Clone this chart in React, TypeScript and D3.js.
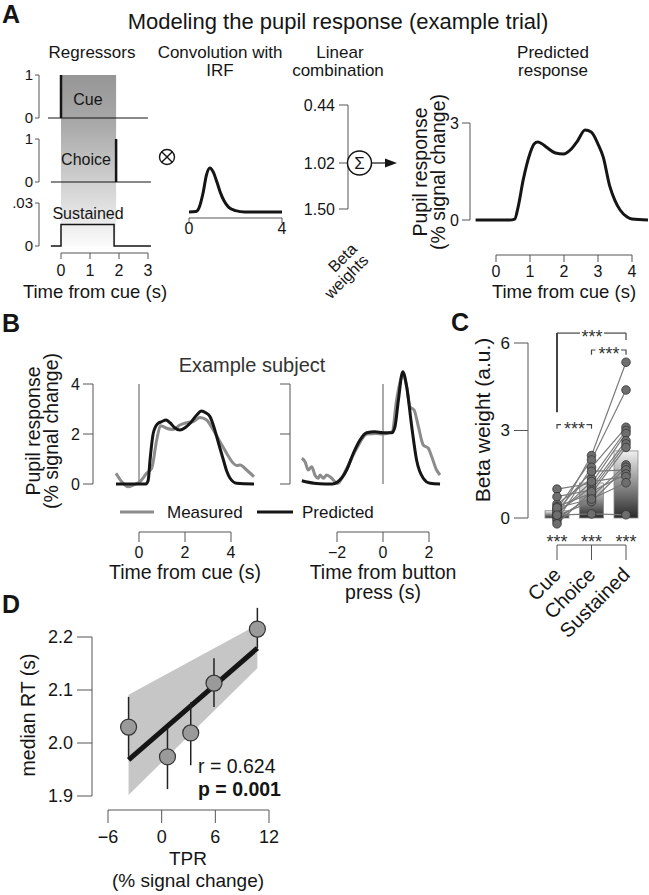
import React from "react";
import * as d3 from "d3";

const FONT = "'Liberation Sans', Arial, Helvetica, sans-serif";
const INK = "#151515";
const AX = "#555";

// ---------- Panel A data ----------
const regTicks = [0, 1, 2, 3];
const cueOnset = 0;
const choiceTime = 1.9;
const sustainedWindow = [0, 1.83];
const sustainedLevel = 0.015;
const regSpan = [-0.45, 3.1];

const irfT = [0, 0.3, 0.45, 0.6, 0.75, 0.9, 1.05, 1.2, 1.35, 1.5, 1.7, 2.0, 2.4, 3, 4];
const irfV = [0, 0.01, 0.12, 0.42, 0.84, 1.0, 0.9, 0.68, 0.44, 0.26, 0.11, 0.03, 0, 0, 0];
const irfTicks = [0, 4];

const betaLabels = ["0.44", "1.02", "1.50"];

const predT = [-0.6, 0.4, 0.55, 0.65, 0.8, 1.0, 1.12, 1.23, 1.35, 1.5, 1.75, 1.98, 2.2, 2.4, 2.62, 2.8, 3.0, 3.15, 3.35, 3.5, 3.65, 3.85, 4.0, 4.47];
const predV = [0, 0, 0.03, 0.4, 1.24, 2.06, 2.35, 2.41, 2.36, 2.24, 2.07, 2.04, 2.18, 2.45, 2.78, 2.72, 2.35, 1.96, 1.03, 0.6, 0.31, 0.1, 0.03, 0];
const predYTicks = [0, 3];
const predXTicks = [0, 1, 2, 3, 4];

// ---------- Panel B data ----------
const bYTicks = [0, 2, 4];
const cueXTicks = [0, 2, 4];
const btnXTicks = [-2, 0, 2];
const measCueT = [-1, -0.75, -0.47, -0.25, 0.04, 0.33, 0.55, 0.77, 0.93, 1.05, 1.2, 1.48, 1.78, 2.07, 2.36, 2.65, 2.94, 3.23, 3.52, 3.81, 4.1, 4.25, 4.4, 4.68, 5];
const measCueV = [0.43, 0.09, -0.11, -0.04, 0.09, 0.43, 0.63, 1.76, 2.33, 2.3, 2.23, 2.18, 2.36, 2.45, 2.5, 2.66, 2.56, 2.16, 1.69, 1.23, 0.83, 0.74, 0.76, 0.56, 0.29];
const predCueT = [-1, 0.3, 0.4, 0.48, 0.62, 0.8, 1.0, 1.17, 1.35, 1.55, 1.78, 2.0, 2.22, 2.5, 2.72, 2.9, 3.09, 3.25, 3.38, 3.53, 3.67, 3.82, 3.96, 4.25, 5];
const predCueV = [0, 0, 0.15, 0.96, 2.03, 2.4, 2.5, 2.56, 2.45, 2.25, 2.16, 2.25, 2.43, 2.75, 2.92, 2.85, 2.69, 2.3, 1.89, 1.4, 0.96, 0.5, 0.23, 0.03, 0];
const measBtnT = [-3.53, -3.39, -3.25, -3.1, -2.96, -2.81, -2.74, -2.59, -2.45, -2.23, -1.98, -1.58, -1.14, -0.7, -0.3, 0, 0.4, 0.59, 0.75, 0.86, 1.03, 1.17, 1.35, 1.54, 1.75, 1.97, 2.12, 2.33, 2.48];
const measBtnV = [1.03, 0.89, 0.56, 0.69, 0.36, 0.23, 0.36, 0.23, 0.36, 0.23, 0.02, 0.62, 1.43, 2.0, 2.02, 2.0, 2.1, 3.36, 4.1, 4.4, 3.89, 3.09, 2.96, 2.29, 1.56, 1.43, 1.09, 0.56, 0.36];
const predBtnT = [-3.53, -3.0, -2.5, -2.2, -1.98, -1.58, -1.29, -1.0, -0.71, -0.35, 0.0, 0.38, 0.52, 0.67, 0.86, 1.03, 1.25, 1.46, 1.75, 2.04, 2.48];
const predBtnV = [0.13, 0.03, 0.0, 0.0, 0.08, 0.56, 1.23, 1.76, 2.05, 2.09, 2.05, 2.05, 2.29, 3.36, 4.49, 3.89, 2.29, 0.96, 0.23, 0.03, 0];

// ---------- Panel C data ----------
const regressors = ["Cue", "Choice", "Sustained"];
const betaMeans = [0.25, 1.2, 2.3];
const betaCue = [0.05, 0.3, -0.09, 0.48, 0.99, 0.18, 0.73, 0.39, -0.01, 0.08, 0.25, -0.2, 0.12, 0.35, 0.1];
const betaChoice = [2.14, 1.99, 1.74, 1.35, 1.19, 1.07, 0.96, 0.85, 0.73, 0.56, 1.6, 0.9, 1.25, 0.65, 0.14];
const betaSustained = [5.34, 4.39, 3.11, 3.0, 2.9, 2.65, 2.54, 2.42, 1.82, 1.74, 1.65, 1.51, 1.42, 1.21, 0.11];
const cYTicks = [0, 3, 6];

// ---------- Panel D data ----------
const tpr = [-3.7, 0.65, 3.25, 5.85, 10.7];
const medianRT = [2.03, 1.974, 2.019, 2.113, 2.215];
const rtLow = [1.974, 1.913, 1.958, 2.068, 2.179];
const rtHigh = [2.087, 2.028, 2.077, 2.16, 2.255];
const fitX = [-3.7, 10.7];
const fitY = [1.968, 2.179];
const bandLow = [1.902, 2.141];
const bandHigh = [2.091, 2.223];
const dXTicks = [-6, 0, 6, 12];
const dYTicks = [1.9, 2.0, 2.1, 2.2];

function curve(xs: number[], ys: number[], xS: any, yS: any) {
  return d3
    .line<number>()
    .x((d) => xS(d))
    .y((_, i) => yS(ys[i]))
    .curve(d3.curveMonotoneX)(xs) as string;
}

function LeftAxis({ x, scale, ticks, labels, len, fs, gap = 3, color = AX, showLabels = true }: any) {
  const [a, b] = d3.extent(ticks.map((t: number) => scale(t))) as number[];
  return (
    <g>
      <line x1={x} x2={x} y1={a} y2={b} stroke={color} strokeWidth={1} />
      {ticks.map((t: number, i: number) => (
        <g key={i}>
          <line x1={x - len} x2={x} y1={scale(t)} y2={scale(t)} stroke={color} strokeWidth={1} />
          {showLabels && (
            <text x={x - len - gap} y={scale(t)} dy="0.35em" textAnchor="end" fontSize={fs} fill={INK}>
              {labels ? labels[i] : t}
            </text>
          )}
        </g>
      ))}
    </g>
  );
}

function BottomAxis({ y, scale, ticks, labels, len, fs, labelY, color = AX }: any) {
  const xs = ticks.map((t: number) => scale(t));
  return (
    <g>
      <line x1={d3.min(xs)} x2={d3.max(xs)} y1={y} y2={y} stroke={color} strokeWidth={1} />
      {ticks.map((t: number, i: number) => (
        <g key={i}>
          <line x1={scale(t)} x2={scale(t)} y1={y} y2={y + len} stroke={color} strokeWidth={1} />
          <text x={scale(t)} y={labelY} textAnchor="middle" fontSize={fs} fill={INK}>
            {labels ? labels[i] : t < 0 ? "\u2212" + Math.abs(t) : t}
          </text>
        </g>
      ))}
    </g>
  );
}

export default function App() {
  // ---- Panel A scales ----
  const xReg = d3.scaleLinear().domain([0, 3]).range([61, 148]);
  const yCue = d3.scaleLinear().domain([0, 1]).range([118, 75]);
  const yCho = d3.scaleLinear().domain([0, 1]).range([182, 139]);
  const ySus = d3.scaleLinear().domain([0, 0.03]).range([246, 203]);
  const xIrf = d3.scaleLinear().domain([0, 4]).range([189, 282]);
  const yIrf = d3.scaleLinear().domain([0, 1]).range([212, 168]);
  const yBeta = d3.scaleOrdinal<string, number>().domain(betaLabels).range([105, 163, 209]);
  const xPred = d3.scaleLinear().domain([0, 4]).range([496, 632]);
  const yPred = d3.scaleLinear().domain([0, 3]).range([220, 123]);

  const susPts: [number, number][] = [
    [regSpan[0] + 0.1, 0],
    [sustainedWindow[0], 0],
    [sustainedWindow[0], sustainedLevel],
    [sustainedWindow[1], sustainedLevel],
    [sustainedWindow[1], 0],
    [regSpan[1], 0],
  ];
  const susPath = d3.line<[number, number]>().x((d) => xReg(d[0])).y((d) => ySus(d[1]))(susPts) as string;

  // ---- Panel B scales ----
  const yB = d3.scaleLinear().domain([0, 4]).range([484, 384]);
  const xBL = d3.scaleLinear().domain([0, 4]).range([139, 231]);
  const xBR = d3.scaleLinear().domain([-2, 2]).range([337, 429]);

  // ---- Panel C scales ----
  const yC = d3.scaleLinear().domain([0, 6]).range([518, 343]);
  const xC = d3.scalePoint<string>().domain(regressors).range([557, 626]);
  const barW = 24;
  const subjects = betaCue.map((c, i) => [c, betaChoice[i], betaSustained[i]]);

  // ---- Panel D scales ----
  const xD = d3.scaleLinear().domain([-6, 12]).range([108, 269]);
  const yD = d3.scaleLinear().domain([1.9, 2.2]).range([796, 637]);
  const bandPath = d3
    .area<number>()
    .x((d) => xD(d))
    .y0((_, i) => yD(bandLow[i]))
    .y1((_, i) => yD(bandHigh[i]))(fitX) as string;
  const fitPath = d3.line<number>().x((d) => xD(d)).y((_, i) => yD(fitY[i]))(fitX) as string;

  const cx = 359.5;
  const cy = yBeta("1.02");

  return (
    <svg width={649} height={895} style={{ position: "absolute", left: 0, top: 0, fontFamily: FONT }}>
      <defs>
        <linearGradient id="regGrad" x1="0" y1="0" x2="0" y2="1">
          <stop offset="0" stopColor="#969696" />
          <stop offset="0.3" stopColor="#aaaaaa" />
          <stop offset="1" stopColor="#fbfbfb" />
        </linearGradient>
        <linearGradient id="barGrad" x1="0" y1="0" x2="0" y2="1">
          <stop offset="0" stopColor="#f0f0f0" />
          <stop offset="1" stopColor="#2a2a2a" />
        </linearGradient>
      </defs>
      <rect width={649} height={895} fill="#fff" />

      {/* ================= Panel A ================= */}
      <text x={2} y={23} fontSize={25} fontWeight="bold" fill={INK}>A</text>
      <text x={338} y={29} textAnchor="middle" fontSize={22} fill={INK}>Modeling the pupil response (example trial)</text>
      <text x={92} y={58} textAnchor="middle" fontSize={17} fill={INK}>Regressors</text>
      <text x={220} y={58} textAnchor="middle" fontSize={17} fill={INK}>Convolution with</text>
      <text x={220} y={76} textAnchor="middle" fontSize={17} fill={INK}>IRF</text>
      <text x={340} y={58} textAnchor="middle" fontSize={17} fill={INK}>Linear</text>
      <text x={338} y={76} textAnchor="middle" fontSize={17} fill={INK}>combination</text>
      <text x={553} y={58} textAnchor="middle" fontSize={17} fill={INK}>Predicted</text>
      <text x={553} y={76} textAnchor="middle" fontSize={17} fill={INK}>response</text>

      {/* gradient window */}
      <rect
        x={xReg(cueOnset)}
        y={yCue(1)}
        width={xReg(choiceTime) - xReg(cueOnset)}
        height={ySus(0) - yCue(1)}
        fill="url(#regGrad)"
      />
      {/* cue regressor */}
      <LeftAxis x={39} scale={yCue} ticks={[0, 1]} len={4} fs={15} gap={2} />
      <line x1={xReg(regSpan[0])} x2={xReg(regSpan[1]) - 3} y1={yCue(0)} y2={yCue(0)} stroke={INK} strokeWidth={1.2} />
      <line x1={xReg(cueOnset)} x2={xReg(cueOnset)} y1={yCue(0)} y2={yCue(1)} stroke={INK} strokeWidth={2.5} />
      <text x={88} y={105} textAnchor="middle" fontSize={16} fill={INK}>Cue</text>
      {/* choice regressor */}
      <LeftAxis x={39} scale={yCho} ticks={[0, 1]} len={4} fs={15} gap={2} />
      <line x1={xReg(regSpan[0] + 0.1)} x2={xReg(regSpan[1])} y1={yCho(0)} y2={yCho(0)} stroke={INK} strokeWidth={1.2} />
      <line x1={xReg(choiceTime)} x2={xReg(choiceTime)} y1={yCho(0)} y2={yCho(1)} stroke={INK} strokeWidth={2.5} />
      <text x={86} y={165} textAnchor="middle" fontSize={16} fill={INK}>Choice</text>
      {/* sustained regressor */}
      <LeftAxis x={39} scale={ySus} ticks={[0, 0.03]} labels={["0", ".03"]} len={4} fs={15} gap={2} />
      <path d={susPath} fill="none" stroke={INK} strokeWidth={1.5} />
      <text x={88} y={219} textAnchor="middle" fontSize={16} fill={INK}>Sustained</text>
      <BottomAxis y={253} scale={xReg} ticks={regTicks} len={6} fs={16} labelY={276} />
      <text x={95} y={298} textAnchor="middle" fontSize={18.5} fill={INK}>Time from cue (s)</text>

      {/* convolution symbol */}
      <circle cx={167} cy={157} r={7.5} fill="none" stroke={INK} strokeWidth={1.4} />
      <line x1={167 - 5.3} y1={157 - 5.3} x2={167 + 5.3} y2={157 + 5.3} stroke={INK} strokeWidth={1.4} />
      <line x1={167 - 5.3} y1={157 + 5.3} x2={167 + 5.3} y2={157 - 5.3} stroke={INK} strokeWidth={1.4} />
      {/* IRF */}
      <path d={curve(irfT, irfV, xIrf, yIrf)} fill="none" stroke={INK} strokeWidth={3} />
      <BottomAxis y={218} scale={xIrf} ticks={irfTicks} len={5} fs={16} labelY={234} />

      {/* linear combination */}
      <LeftAxis x={348} scale={yBeta} ticks={betaLabels} labels={betaLabels} len={9} fs={16} gap={4} />
      <line x1={348} x2={cx - 12} y1={cy} y2={cy} stroke={AX} strokeWidth={1} />
      <circle cx={cx} cy={cy} r={12} fill="#fff" stroke={INK} strokeWidth={1.5} />
      <text x={cx} y={cy} dy="0.36em" textAnchor="middle" fontSize={17} fill={INK}>Σ</text>
      <line x1={cx + 12} x2={387} y1={cy} y2={cy} stroke={INK} strokeWidth={1.2} />
      <path d={`M385,${cy - 4.5}L397,${cy}L385,${cy + 4.5}Z`} fill={INK} />
      <text transform="translate(358,250) rotate(-45)" textAnchor="end" fontSize={16} fill={INK}>
        <tspan x={0} y={0}>Beta</tspan>
        <tspan x={0} y={16}>weights</tspan>
      </text>

      {/* predicted response */}
      <LeftAxis x={470} scale={yPred} ticks={predYTicks} len={8} fs={16} gap={3} />
      <path d={curve(predT, predV, xPred, yPred)} fill="none" stroke={INK} strokeWidth={3} />
      <BottomAxis y={255} scale={xPred} ticks={predXTicks} len={7} fs={16} labelY={277} />
      <text x={564} y={298} textAnchor="middle" fontSize={18.5} fill={INK}>Time from cue (s)</text>
      <text transform="translate(427,172) rotate(-90)" textAnchor="middle" fontSize={19.5} fill={INK}>Pupil response</text>
      <text transform="translate(445,172) rotate(-90)" textAnchor="middle" fontSize={19.5} fill={INK}>(% signal change)</text>

      {/* ================= Panel B ================= */}
      <text x={2} y={332} fontSize={25} fontWeight="bold" fill={INK}>B</text>
      <text x={252} y={372} textAnchor="middle" fontSize={20} fill="#333">Example subject</text>
      <text transform="translate(40,431) rotate(-90)" textAnchor="middle" fontSize={19.5} fill={INK}>Pupil response</text>
      <text transform="translate(58,431) rotate(-90)" textAnchor="middle" fontSize={19.5} fill={INK}>(% signal change)</text>
      <LeftAxis x={93} scale={yB} ticks={bYTicks} len={10} fs={16} gap={3} />
      <LeftAxis x={290} scale={yB} ticks={bYTicks} len={10} fs={16} showLabels={false} />
      <line x1={xBL(0)} x2={xBL(0)} y1={yB(4)} y2={yB(0)} stroke="#444" strokeWidth={0.9} />
      <line x1={xBR(0)} x2={xBR(0)} y1={yB(4)} y2={yB(0)} stroke="#444" strokeWidth={0.9} />
      <path d={curve(measCueT, measCueV, xBL, yB)} fill="none" stroke="#8c8c8c" strokeWidth={3} />
      <path d={curve(predCueT, predCueV, xBL, yB)} fill="none" stroke={INK} strokeWidth={3} />
      <path d={curve(measBtnT, measBtnV, xBR, yB)} fill="none" stroke="#8c8c8c" strokeWidth={3} />
      <path d={curve(predBtnT, predBtnV, xBR, yB)} fill="none" stroke={INK} strokeWidth={3} />
      {/* legend */}
      <line x1={120} x2={154} y1={512} y2={512} stroke="#8c8c8c" strokeWidth={3} />
      <text x={167} y={512} dy="0.35em" fontSize={17} fill={INK}>Measured</text>
      <line x1={257} x2={293} y1={512} y2={512} stroke={INK} strokeWidth={3} />
      <text x={302} y={512} dy="0.35em" fontSize={17} fill={INK}>Predicted</text>
      <BottomAxis y={532} scale={xBL} ticks={cueXTicks} len={10} fs={16} labelY={558} />
      <BottomAxis y={532} scale={xBR} ticks={btnXTicks} len={10} fs={16} labelY={558} />
      <text x={185} y={579} textAnchor="middle" fontSize={19.5} fill={INK}>Time from cue (s)</text>
      <text x={383} y={579} textAnchor="middle" fontSize={19.5} fill={INK}>Time from button</text>
      <text x={383} y={599} textAnchor="middle" fontSize={19.5} fill={INK}>press (s)</text>

      {/* ================= Panel C ================= */}
      <text x={451} y={331} fontSize={25} fontWeight="bold" fill={INK}>C</text>
      <LeftAxis x={528} scale={yC} ticks={cYTicks} len={14} fs={17} gap={4} />
      <text transform="translate(490,420) rotate(-90)" textAnchor="middle" fontSize={21} fill={INK}>Beta weight (a.u.)</text>
      {regressors.map((r, i) => (
        <rect
          key={r}
          x={(xC(r) as number) - barW / 2}
          y={yC(betaMeans[i])}
          width={barW}
          height={yC(0) - yC(betaMeans[i])}
          fill="url(#barGrad)"
          stroke="#8a8a8a"
          strokeWidth={0.8}
        />
      ))}
      {subjects.map((s, k) => (
        <path
          key={k}
          d={d3.line<number>().x((_, i) => xC(regressors[i]) as number).y((d) => yC(d))(s) as string}
          fill="none"
          stroke="#7a7a7a"
          strokeWidth={1.2}
        />
      ))}
      {subjects.map((s, k) =>
        s.map((v, i) => (
          <circle key={k + "-" + i} cx={xC(regressors[i]) as number} cy={yC(v)} r={4.3} fill="#6e6e6e" stroke="#333" strokeWidth={0.8} />
        ))
      )}
      {/* significance brackets */}
      <g stroke="#444" fill="none">
        <line x1={xC("Cue")} x2={xC("Cue")} y1={yC(6.34)} y2={yC(3.63)} strokeWidth={2} />
        <line x1={xC("Cue")} x2={580} y1={yC(6.34)} y2={yC(6.34)} strokeWidth={1.2} />
        <line x1={604} x2={xC("Sustained")} y1={yC(6.34)} y2={yC(6.34)} strokeWidth={1.2} />
        <line x1={xC("Sustained")} x2={xC("Sustained")} y1={yC(6.34)} y2={yC(6.1)} strokeWidth={1.2} />
        <path d={`M${xC("Choice")},${yC(5.6)}V${yC(5.76)}H${(xC("Choice") as number) + 4}`} strokeWidth={1.2} />
        <path d={`M${(xC("Sustained") as number) - 5},${yC(5.76)}H${xC("Sustained")}V${yC(5.6)}`} strokeWidth={1.2} />
        <path d={`M${xC("Cue")},${yC(3.06)}V${yC(3.2)}H${(xC("Cue") as number) + 4}`} strokeWidth={1.2} />
        <path d={`M${(xC("Choice") as number) - 5},${yC(3.2)}H${xC("Choice")}V${yC(3.06)}`} strokeWidth={1.2} />
      </g>
      <text x={592} y={yC(6.34) + 10} textAnchor="middle" fontSize={18} fill="#333">***</text>
      <text x={609} y={yC(5.76) + 10} textAnchor="middle" fontSize={18} fill="#333">***</text>
      <text x={574.5} y={yC(3.2) + 10} textAnchor="middle" fontSize={18} fill="#333">***</text>
      {regressors.map((r) => (
        <text key={r} x={xC(r)} y={548} textAnchor="middle" fontSize={18} fill="#333">***</text>
      ))}
      <line x1={xC("Cue")} x2={xC("Sustained")} y1={545} y2={545} stroke={AX} strokeWidth={1} />
      {regressors.map((r) => (
        <line key={r} x1={xC(r)} x2={xC(r)} y1={545} y2={560} stroke={AX} strokeWidth={1} />
      ))}
      {regressors.map((r) => (
        <text
          key={r}
          transform={`translate(${(xC(r) as number) + 5},576) rotate(-45)`}
          textAnchor="end"
          fontSize={20}
          fill={INK}
        >
          {r}
        </text>
      ))}

      {/* ================= Panel D ================= */}
      <text x={2} y={613} fontSize={25} fontWeight="bold" fill={INK}>D</text>
      <LeftAxis x={92} scale={yD} ticks={dYTicks} labels={dYTicks.map((t) => t.toFixed(1))} len={15} fs={18} gap={4} />
      <text transform="translate(35,715) rotate(-90)" textAnchor="middle" fontSize={19.5} fill={INK}>median RT (s)</text>
      <path d={bandPath} fill="#c6c6c6" />
      <path d={fitPath} fill="none" stroke={INK} strokeWidth={5} />
      {tpr.map((t, i) => (
        <line key={i} x1={xD(t)} x2={xD(t)} y1={yD(rtLow[i])} y2={yD(rtHigh[i])} stroke="#222" strokeWidth={1.5} />
      ))}
      {tpr.map((t, i) => (
        <circle key={i} cx={xD(t)} cy={yD(medianRT[i])} r={8} fill="#9a9a9a" stroke="#333" strokeWidth={1.2} />
      ))}
      <text x={198} y={773} fontSize={19.5} fill={INK}>r = 0.624</text>
      <text x={198} y={796} fontSize={19.5} fontWeight="bold" fill={INK}>p = 0.001</text>
      <BottomAxis y={810} scale={xD} ticks={dXTicks} len={13} fs={18} labelY={843} />
      <text x={188} y={865} textAnchor="middle" fontSize={19} fill={INK}>TPR</text>
      <text x={188} y={887} textAnchor="middle" fontSize={19} fill={INK}>(% signal change)</text>
    </svg>
  );
}
